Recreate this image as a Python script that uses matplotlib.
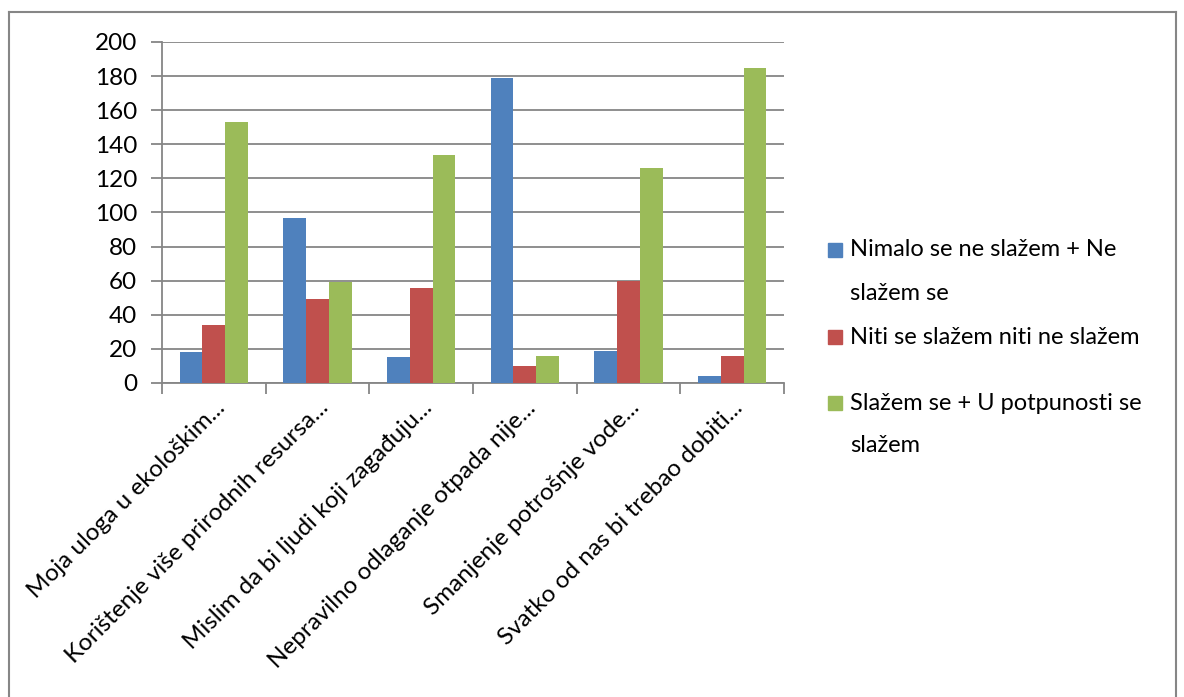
import numpy as np
import matplotlib
matplotlib.use("Agg")
import matplotlib.pyplot as plt
from matplotlib.lines import Line2D
from matplotlib.patches import Rectangle

categories = [
    "Moja uloga u ekološkim...",
    "Korištenje više prirodnih resursa...",
    "Mislim da bi ljudi koji zagađuju...",
    "Nepravilno odlaganje otpada nije...",
    "Smanjenje potrošnje vode...",
    "Svatko od nas bi trebao dobiti...",
]
series_names = [
    "Nimalo se ne slažem + Ne\nslažem se",
    "Niti se slažem niti ne slažem",
    "Slažem se + U potpunosti se\nslažem",
]
disagree = [18, 97, 15, 179, 19, 4]
neutral = [34, 49, 56, 10, 60, 16]
agree = [153, 59, 134, 16, 126, 185]
colors = ["#4F81BD", "#C0504D", "#9BBB59"]

plt.rcParams["font.family"] = ["Lato", "DejaVu Sans"]

W, H = 1184, 697
fig = plt.figure(figsize=(W / 100, H / 100), dpi=100)
ax = fig.add_axes([162 / W, 1 - 383 / H, 622 / W, 341 / H])

x = np.arange(len(categories))
w = 0.22
for i, (vals, name) in enumerate(zip([disagree, neutral, agree], series_names)):
    ax.bar(x + (i - 1) * w, vals, w, color=colors[i], label=name, zorder=3)

ax.set_xlim(-0.5, len(categories) - 0.5)
ax.set_ylim(0, 200)
ax.set_yticks(range(0, 201, 20))
ax.yaxis.grid(True, color="#868686", linewidth=1.3, zorder=0)
for s in ["top", "right"]:
    ax.spines[s].set_visible(False)
ax.spines["left"].set_color("#868686")
ax.spines["bottom"].set_color("#868686")
ax.spines["left"].set_linewidth(1.3)
ax.spines["bottom"].set_linewidth(1.3)
ax.tick_params(axis="y", labelsize=17.5, color="#868686", length=8, width=1.3, pad=10)

# ticks on the category boundaries, labels at the centres
ax.set_xticks(np.arange(-0.5, len(categories), 1.0))
ax.set_xticklabels([])
ax.tick_params(axis="x", color="#868686", length=8, width=1.3)
ax.set_xticks(x, minor=True)
ax.set_xticklabels(categories, minor=True, rotation=45, ha="right",
                   rotation_mode="anchor", fontsize=17.5)
ax.tick_params(axis="x", which="minor", length=0, pad=10)

# legend drawn by hand: square sits level with the first line of each label
entry_top = [250, 337, 403]   # pixel row of first line of each entry
line_step = 43
for name, col, y0 in zip(series_names, colors, entry_top):
    fig.add_artist(Rectangle((828 / W, 1 - (y0 + 7) / H), 14 / W, 14 / H,
                             transform=fig.transFigure, color=col))
    for k, line in enumerate(name.split("\n")):
        fig.text(850 / W, 1 - (y0 + k * line_step) / H, line, fontsize=17,
                 va="center", ha="left")

# outer frame (bottom edge cut off in the original)
gray = "#868686"
fig.add_artist(Line2D([9 / W, 9 / W], [0, 1 - 12 / H], color=gray, lw=1.5))
fig.add_artist(Line2D([9 / W, 1176 / W], [1 - 12 / H, 1 - 12 / H], color=gray, lw=1.5))
fig.add_artist(Line2D([1176 / W, 1176 / W], [0, 1 - 12 / H], color=gray, lw=1.5))

fig.savefig("out.png", dpi=100)
